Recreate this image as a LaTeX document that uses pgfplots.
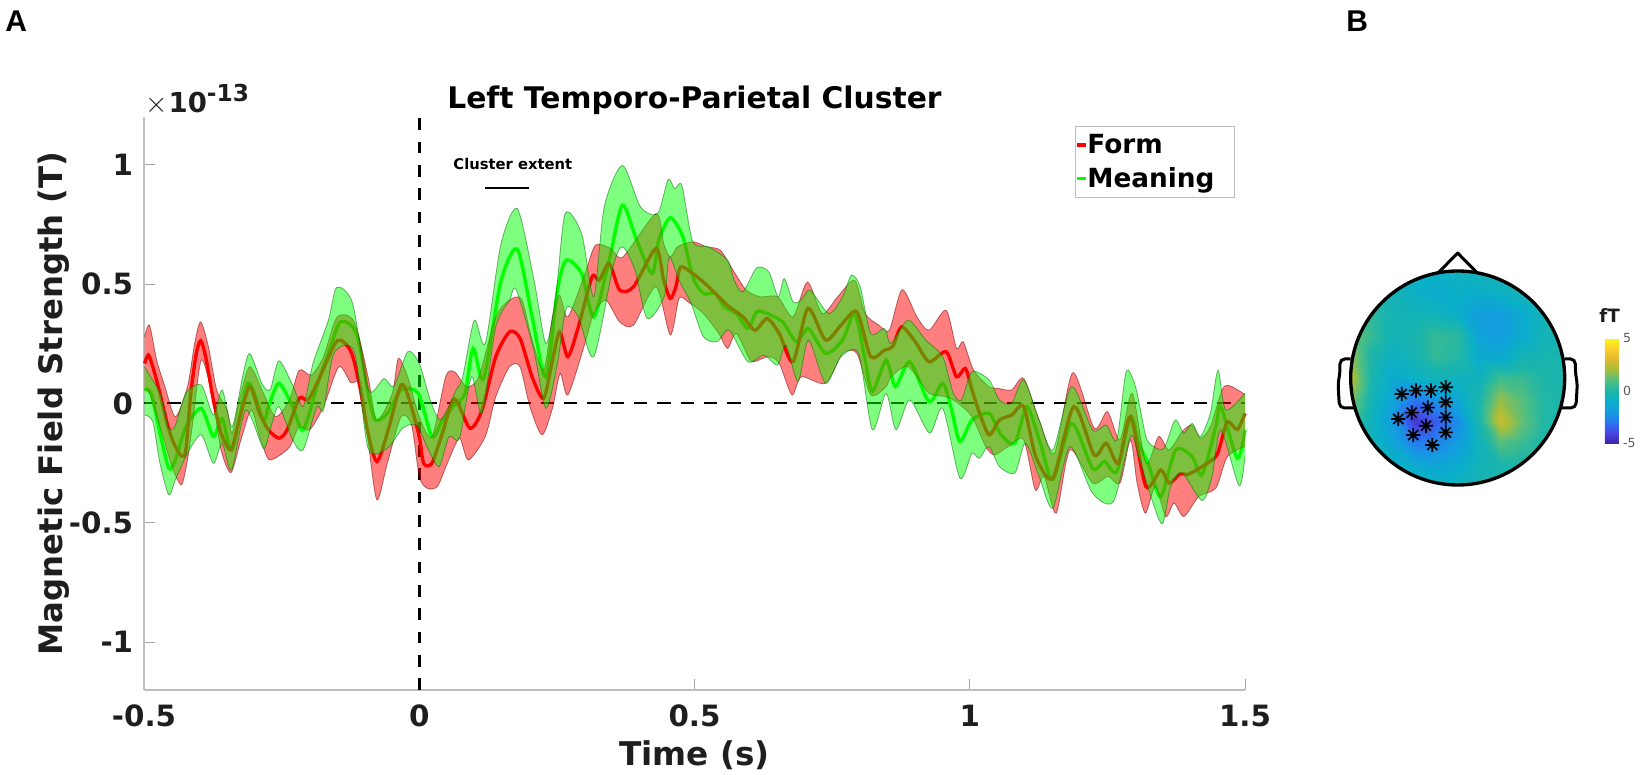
\documentclass[border=0pt]{standalone}
\usepackage{fontspec}
\setmainfont{DejaVu Sans}
\newfontfamily\panelfont{Liberation Sans}
\usepackage{pgfplots}
\usepackage{pgfplotstable}
\pgfplotsset{compat=1.18}
\usepgfplotslibrary{fillbetween}
\definecolor{txt}{RGB}{30,30,30}
\definecolor{axgray}{RGB}{190,190,190}
\pgfdeclareplotmark{star8}{%
  \pgfpathmoveto{\pgfqpoint{-\pgfplotmarksize}{0pt}}\pgfpathlineto{\pgfqpoint{\pgfplotmarksize}{0pt}}
  \pgfpathmoveto{\pgfqpoint{0pt}{-\pgfplotmarksize}}\pgfpathlineto{\pgfqpoint{0pt}{\pgfplotmarksize}}
  \pgfpathmoveto{\pgfqpoint{-.7\pgfplotmarksize}{-.7\pgfplotmarksize}}\pgfpathlineto{\pgfqpoint{.7\pgfplotmarksize}{.7\pgfplotmarksize}}
  \pgfpathmoveto{\pgfqpoint{-.7\pgfplotmarksize}{.7\pgfplotmarksize}}\pgfpathlineto{\pgfqpoint{.7\pgfplotmarksize}{-.7\pgfplotmarksize}}
  \pgfusepathqstroke
}
% mean curves and band edges (units of 1e-13 T)
\pgfplotstableread{
t v
-.499 .167
-.492 .202
-.484 .153
-.471 .042
-.458 -.084
-.446 -.167
-.432 -.220
-.424 -.195
-.415 .042
-.405 .209
-.397 .262
-.388 .195
-.374 .014
-.360 -.125
-.342 -.195
-.327 -.070
-.308 .070
-.290 -.042
-.274 -.111
-.255 -.146
-.240 -.111
-.218 .021
-.202 .014
-.183 .097
-.149 .262
-.124 .216
-.108 .070
-.093 -.125
-.077 -.244
-.058 -.125
-.033 .077
-.018 .014
0 -.139
.008 -.251
.023 -.251
.042 -.125
.064 .018
.092 -.104
.114 -.028
.139 .195
.164 .299
.183 .272
.205 .111
.226 .021
.242 .181
.255 .299
.270 .195
.289 .320
.314 .529
.327 .515
.345 .585
.364 .474
.389 .487
.430 .648
.444 .515
.456 .439
.466 .487
.475 .571
.497 .543
.516 .508
.541 .453
.563 .404
.588 .362
.610 .306
.632 .355
.654 .292
.679 .174
.706 .397
.738 .265
.766 .327
.795 .383
.820 .195
.845 .223
.860 .237
.876 .320
.901 .258
.926 .174
.957 .216
.976 .111
.992 .146
1.004 .056
1.017 -.035
1.035 -.132
1.054 -.070
1.076 -.049
1.098 -.014
1.120 -.223
1.151 -.313
1.189 -.014
1.226 -.216
1.248 -.167
1.270 -.251
1.292 -.056
1.320 -.348
1.347 -.279
1.362 -.334
1.383 -.293
1.395 -.299
1.422 -.265
1.447 -.223
1.456 -.167
1.468 -.077
1.486 -.109
1.5 -.042
}\formmean
\pgfplotstableread{
t v
-.499 .056
-.487 .042
-.471 -.125
-.455 -.272
-.443 -.237
-.424 -.098
-.396 -.021
-.374 -.139
-.358 -.063
-.340 -.195
-.311 .084
-.283 -.070
-.274 -.014
-.255 .084
-.230 -.014
-.211 -.111
-.183 .091
-.165 .209
-.143 .341
-.114 .292
-.093 .042
-.080 -.070
-.058 -.042
-.033 .056
-.002 .042
.023 -.139
.042 -.070
.064 -.007
.083 .042
.098 .230
.117 .104
.148 .508
.178 .645
.205 .362
.230 .111
.251 .474
.267 .599
.295 .543
.317 .362
.345 .599
.369 .829
.395 .683
.423 .543
.435 .683
.456 .777
.479 .696
.497 .529
.516 .460
.538 .460
.554 .404
.576 .376
.597 .313
.613 .383
.632 .376
.660 .341
.685 .258
.707 .313
.738 .209
.769 .265
.791 .376
.810 .181
.823 .049
.848 .181
.865 .070
.891 .174
.926 .007
.951 .084
.967 -.028
.982 -.160
1.004 -.070
1.035 -.042
1.057 -.132
1.082 -.167
1.104 -.014
1.129 -.174
1.151 -.320
1.185 -.084
1.223 -.272
1.245 -.244
1.267 -.286
1.292 -.056
1.307 -.167
1.325 -.258
1.347 -.390
1.374 -.195
1.404 -.223
1.422 -.299
1.447 -.098
1.456 -.014
1.486 -.230
1.5 -.111
}\meaningmean
\pgfplotstableread{
t v
-.499 .279
-.490 .327
-.477 .181
-.462 .070
-.443 -.056
-.421 .070
-.408 .251
-.397 .341
-.383 .237
-.368 .056
-.349 -.028
-.340 -.125
-.327 .014
-.308 .153
-.283 .042
-.261 -.056
-.236 .014
-.218 .139
-.196 .118
-.174 .195
-.149 .362
-.118 .341
-.093 .111
-.077 -.070
-.049 .042
-.038 .188
-.021 .111
0 -.056
.023 -.139
.048 .111
.064 .132
.086 .070
.108 .111
.139 .362
.164 .432
.186 .436
.205 .265
.226 .139
.242 .362
.255 .453
.270 .362
.301 .543
.320 .662
.348 .648
.370 .613
.430 .794
.444 .669
.456 .613
.469 .655
.497 .676
.522 .655
.547 .641
.572 .550
.594 .474
.619 .446
.651 .446
.679 .362
.705 .508
.732 .376
.760 .446
.791 .515
.810 .376
.835 .327
.854 .306
.877 .476
.904 .362
.926 .306
.957 .390
.976 .230
.988 .258
1.007 .139
1.035 .070
1.051 .063
1.076 .056
1.098 .104
1.126 -.070
1.154 -.209
1.187 .128
1.226 -.104
1.250 -.035
1.273 -.153
1.295 .042
1.320 -.251
1.343 -.139
1.362 -.195
1.386 -.118
1.404 -.091
1.419 -.146
1.437 -.098
1.462 .070
1.492 .049
1.5 .035
}\formup
\pgfplotstableread{
t v
-.499 .056
-.490 .042
-.471 -.098
-.449 -.265
-.432 -.341
-.421 -.237
-.412 -.091
-.396 .181
-.377 .042
-.360 -.195
-.342 -.290
-.324 -.153
-.305 -.028
-.290 -.139
-.274 -.234
-.255 -.220
-.235 -.181
-.218 -.098
-.199 -.111
-.174 -.014
-.146 .153
-.124 .086
-.105 .084
-.093 -.153
-.077 -.404
-.058 -.251
-.033 -.056
-.014 -.091
0 -.306
.014 -.355
.033 -.348
.051 -.251
.073 -.146
.089 -.237
.120 -.139
.139 .028
.164 .153
.183 .153
.201 -.014
.223 -.132
.242 -.021
.256 .125
.270 .035
.301 .251
.317 .376
.339 .432
.364 .341
.389 .327
.430 .488
.456 .286
.472 .439
.488 .425
.516 .376
.544 .292
.560 .230
.576 .292
.601 .181
.613 .178
.635 .195
.654 .167
.677 .035
.694 .111
.738 .084
.769 .209
.795 .209
.820 .035
.848 .070
.857 .111
.888 .153
.926 .042
.957 .028
.979 0
1.004 -.056
1.029 -.181
1.045 -.216
1.070 -.181
1.098 -.153
1.119 -.362
1.135 -.306
1.157 -.460
1.182 -.195
1.223 -.334
1.251 -.306
1.273 -.334
1.292 -.153
1.304 -.334
1.319 -.460
1.337 -.348
1.356 -.474
1.371 -.418
1.389 -.474
1.416 -.390
1.447 -.355
1.468 -.223
1.5 -.181
}\formlo
\pgfplotstableread{
t v
-.499 .153
-.490 .118
-.471 .042
-.455 -.104
-.443 -.091
-.424 .042
-.396 .077
-.374 -.049
-.358 .056
-.340 -.098
-.321 .111
-.308 .209
-.286 .084
-.271 .056
-.255 .178
-.230 .077
-.211 -.014
-.193 .167
-.165 .348
-.150 .485
-.121 .418
-.093 .056
-.064 .104
-.046 .070
-.021 .216
0 .167
.020 .014
.039 -.070
.067 .056
.079 .111
.100 .348
.120 .251
.148 .662
.178 .815
.208 .522
.230 .251
.248 .446
.265 .794
.295 .710
.317 .446
.336 .822
.369 .996
.402 .822
.433 .794
.452 .937
.464 .898
.477 .912
.497 .676
.526 .655
.560 .599
.572 .515
.588 .467
.613 .567
.635 .550
.652 .446
.663 .522
.679 .425
.694 .432
.710 .474
.744 .376
.769 .446
.785 .536
.801 .488
.820 .292
.845 .313
.857 .251
.888 .348
.920 .265
.951 .195
.970 .042
.985 .014
1.004 .132
1.035 .098
1.054 .014
1.076 0
1.098 .098
1.126 -.070
1.151 -.195
1.185 .070
1.223 -.111
1.248 -.091
1.267 -.153
1.284 .132
1.301 .070
1.320 -.139
1.334 -.181
1.353 -.188
1.373 -.070
1.389 -.125
1.404 -.084
1.419 -.139
1.437 -.042
1.451 .139
1.465 -.028
1.5 .042
}\meaningup
\pgfplotstableread{
t v
-.499 -.049
-.484 -.077
-.471 -.251
-.455 -.383
-.443 -.320
-.421 -.209
-.396 -.132
-.374 -.251
-.358 -.167
-.341 -.279
-.315 -.028
-.283 -.188
-.271 -.111
-.255 -.014
-.230 -.153
-.211 -.195
-.186 -.014
-.174 -.028
-.155 .209
-.118 .216
-.093 -.188
-.058 -.188
-.030 -.104
-.005 -.091
.014 -.181
.036 -.265
.054 -.139
.073 -.146
.095 .111
.114 -.042
.139 .320
.164 .432
.176 .476
.208 .223
.230 -.021
.251 .167
.267 .397
.289 .362
.317 .195
.352 .571
.369 .655
.392 .557
.414 .355
.445 .446
.454 .613
.472 .515
.494 .418
.516 .279
.541 .258
.563 .306
.597 .174
.626 .202
.651 .160
.666 .244
.688 .091
.707 .265
.738 .084
.766 .195
.798 .209
.823 -.111
.848 .042
.866 -.111
.891 .014
.927 -.125
.951 -.021
.982 -.313
1.004 -.209
1.017 -.230
1.035 -.181
1.054 -.265
1.082 -.292
1.101 -.167
1.126 -.306
1.151 -.439
1.182 -.181
1.223 -.376
1.261 -.411
1.292 -.139
1.307 -.223
1.331 -.404
1.350 -.504
1.365 -.348
1.386 -.293
1.422 -.407
1.440 -.306
1.456 -.111
1.489 -.345
1.5 -.223
}\meaninglo
% scalp field, fT, on a square grid
\pgfplotstableread{
x y z
-1 -1 -.3
-.8 -1 -.3
-.6 -1 -.3
-.4 -1 -.5
-.2 -1 -.7
0 -1 -.6
.2 -1 -.3
.4 -1 -.2
.6 -1 -.2
.8 -1 -.2
1 -1 -.2
-1 -.8 -.1
-.8 -.8 -.4
-.6 -.8 -.8
-.4 -.8 -1.3
-.2 -.8 -1.6
0 -.8 -1.2
.2 -.8 -.5
.4 -.8 -.1
.6 -.8 -.1
.8 -.8 -.2
1 -.8 -.2
-1 -.6 -.1
-.8 -.6 -.6
-.6 -.6 -1.6
-.4 -.6 -2.9
-.2 -.6 -2.7
0 -.6 -1.9
.2 -.6 -.6
.4 -.6 1
.6 -.6 .5
.8 -.6 -.1
1 -.6 -.2
-1 -.4 .5
-.8 -.4 -.7
-.6 -.4 -2
-.4 -.4 -4.5
-.2 -.4 -3.6
0 -.4 -2.4
.2 -.4 -.1
.4 -.4 2.6
.6 -.4 1.2
.8 -.4 .1
1 -.4 -.2
-1 -.2 1.5
-.8 -.2 -.5
-.6 -.2 -1.5
-.4 -.2 -3
-.2 -.2 -2.2
0 -.2 -1.4
.2 -.2 -.2
.4 -.2 1.8
.6 -.2 1
.8 -.2 .1
1 -.2 -.2
-1 0 2.3
-.8 0 -.2
-.6 0 -1.3
-.4 0 -.9
-.2 0 -.5
0 0 -.7
.2 0 -.7
.4 0 .6
.6 0 .5
.8 0 0
1 0 -.2
-1 .2 1.8
-.8 .2 -.1
-.6 .2 -.8
-.4 .2 -.3
-.2 .2 .4
0 .2 .1
.2 .2 -1.3
.4 .2 -1.3
.6 .2 -.4
.8 .2 -.2
1 .2 -.2
-1 .4 1.5
-.8 .4 .4
-.6 .4 -.5
-.4 .4 -.2
-.2 .4 .4
0 .4 .2
.2 .4 -1.6
.4 .4 -2
.6 .4 -1.2
.8 .4 -.5
1 .4 -.3
-1 .6 1
-.8 .6 .3
-.6 .6 -.4
-.4 .6 -.6
-.2 .6 -.6
0 .6 -1
.2 .6 -1.8
.4 .6 -1.9
.6 .6 -1.3
.8 .6 -.5
1 .6 -.4
-1 .8 .5
-.8 .8 -.1
-.6 .8 -.5
-.4 .8 -.9
-.2 .8 -1.2
0 .8 -.9
.2 .8 -1
.4 .8 -.8
.6 .8 -.5
.8 .8 -.4
1 .8 -.4
-1 1 -.6
-.8 1 -.6
-.6 1 -.6
-.4 1 -.8
-.2 1 -.9
0 1 -.7
.2 1 -.5
.4 1 -.5
.6 1 -.5
.8 1 -.5
1 1 -.5
}\scalp
\begin{document}
\begin{tikzpicture}
\node[anchor=base west,inner sep=0pt,font=\panelfont\bfseries\fontsize{18}{18}\selectfont] at (3pt,445.8pt) {A};
\node[anchor=base west,inner sep=0pt,font=\panelfont\bfseries\fontsize{18}{18}\selectfont] at (807.6pt,445.8pt) {B};

\begin{axis}[
  at={(86.4pt,51pt)},anchor=south west,scale only axis,
  width=660.6pt,height=344pt,
  xmin=-0.5,xmax=1.5,ymin=-1.2,ymax=1.2,
  axis x line*=bottom,axis y line*=left,
  axis line style={draw=axgray,line width=1pt,-},
  tick style={draw=gray!70,line width=.4pt},
  tick align=inside,major tick length=6.6pt,
  xtick={-0.5,0,0.5,1,1.5},xticklabels={-0.5,0,0.5,1,1.5},
  ytick={-1,-0.5,0,0.5,1},yticklabels={-1,-0.5,0,0.5,1},
  ticklabel style={font=\bfseries\fontsize{17.6}{17.6}\selectfont,text=txt},
  xticklabel style={yshift=-5.5pt},
  yticklabel style={xshift=-3pt},
  xlabel={\bfseries\fontsize{19.6}{19.6}\selectfont\textcolor{txt}{Time (s)}},
  ylabel={\bfseries\fontsize{19.4}{19.4}\selectfont\textcolor{txt}{Magnetic Field Strength (T)}},
  xlabel style={yshift=-1pt},
  ylabel style={yshift=-7pt},
  clip=false,
  every axis plot/.append style={forget plot},
  legend style={at={(0.8456,0.9838)},anchor=north west,draw=axgray,line width=.8pt,
    font=\bfseries\fontsize{15.8}{15.8}\selectfont,inner sep=0pt,inner ysep=2.5pt,row sep=3pt,
    legend cell align=left},
  legend image code/.code={\draw[#1,line width=2pt] (-5pt,0pt)--(0pt,0pt);},
]
\addlegendimage{red}\addlegendentry{\hspace*{-2pt}Form\hspace*{10pt}}
\addlegendimage{green}\addlegendentry{\hspace*{-2pt}Meaning\hspace*{10pt}}
\addplot[black,line width=1.2pt,dash pattern=on 8pt off 6pt] coordinates {(-0.5,0) (1.5,0)};
\addplot[black,line width=1.8pt,dash pattern=on 7pt off 7pt] coordinates {(0,-1.2) (0,1.2)};
\addplot[draw=none,smooth,tension=.45,name path=fu] table {\formup};
\addplot[draw=none,smooth,tension=.45,name path=fl] table {\formlo};
\addplot[draw=none,smooth,tension=.45,name path=mu] table {\meaningup};
\addplot[draw=none,smooth,tension=.45,name path=ml] table {\meaninglo};
\addplot[green,line width=2pt,smooth,tension=.45] table {\meaningmean};
\addplot[red,opacity=.5,draw=none] fill between[of=fu and fl,on layer=main];
\addplot[black!60!red,opacity=.5,line width=.5pt,smooth,tension=.45] table {\formup};
\addplot[black!60!red,opacity=.5,line width=.5pt,smooth,tension=.45] table {\formlo};
\addplot[red,line width=2pt,smooth,tension=.45] table {\formmean};
\addplot[green,opacity=.5,draw=none] fill between[of=mu and ml,on layer=main];
\addplot[black!60!green,opacity=.5,line width=.5pt,smooth,tension=.45] table {\meaningup};
\addplot[black!60!green,opacity=.5,line width=.5pt,smooth,tension=.45] table {\meaninglo};
\addplot[black,line width=1.2pt] coordinates {(0.12,0.9) (0.2,0.9)};
\node[font=\bfseries\fontsize{8.85}{9}\selectfont] at (axis cs:0.17,1.0) {Cluster extent};
\node[anchor=base,font=\bfseries\fontsize{17.85}{17.85}\selectfont,inner sep=0pt] at (axis cs:0.5,1.234) {Left Temporo-Parietal Cluster};
\node[anchor=base west,inner sep=0pt,text=txt] at (axis cs:-0.498,1.216)
  {\fontsize{19}{19}\selectfont$\times$\hspace{.5pt}\bfseries\fontsize{16.5}{16.5}\selectfont 10\raisebox{7pt}{\fontsize{14}{14}\selectfont -13}};
\end{axis}

\pgfplotsset{colormap={parula}{rgb255=(62,38,168) rgb255=(70,70,230) rgb255=(40,120,240) rgb255=(20,155,225) rgb255=(10,175,200) rgb255=(30,182,168) rgb255=(85,190,125) rgb255=(165,190,60) rgb255=(225,185,45) rgb255=(252,206,46) rgb255=(249,251,21)}}
\begin{axis}[
  at={(810.4pt,174pt)},anchor=south west,scale only axis,
  width=128.4pt,height=128.4pt,
  xmin=-1,xmax=1,ymin=-1,ymax=1,hide axis,clip=false,
  colormap name=parula,point meta min=-5,point meta max=5,
  colorbar,
  colorbar style={at={(1.188,0.196)},anchor=south west,width=8.4pt,height=63pt,
    ytick={-5,0,5},yticklabels={-5,0,5},major tick length=0pt,
    axis line style={draw=none},
    yticklabel style={font=\fontsize{7.5}{8}\selectfont,text=black!65,xshift=-1pt}},
]
\addplot[surf,shader=interp,mesh/cols=11,point meta=\thisrow{z}] table[x=x,y=y] {\scalp};
\path[fill=white,even odd rule] (axis cs:-1.03,-1.03) rectangle (axis cs:1.03,1.03) (axis cs:0,0) circle[radius=64.2pt];
\draw[black,line width=2pt] (axis cs:0,0) circle[radius=64.2pt];
\draw[black,line width=1.8pt,line join=round] (axis cs:-.18,.985)--(axis cs:0,1.168)--(axis cs:.18,.985);
\draw[black,line width=1.8pt,rounded corners=3pt] (axis cs:-1,.178)--(axis cs:-1.1,.178)--(axis cs:-1.1,.05)--(axis cs:-1.118,-.05)--(axis cs:-1.105,-.28)--(axis cs:-.96,-.28);
\draw[black,line width=1.8pt,rounded corners=3pt] (axis cs:1,.178)--(axis cs:1.1,.178)--(axis cs:1.1,.05)--(axis cs:1.118,-.05)--(axis cs:1.105,-.28)--(axis cs:.96,-.28);
\addplot[only marks,mark=star8,mark size=4.3pt,mark options={black,line width=1pt}] coordinates {
(-.523,-.150) (-.390,-.118) (-.250,-.118) (-.112,-.087) (-.112,-.227) (-.280,-.277) (-.430,-.324)
(-.555,-.383) (-.112,-.368) (-.296,-.446) (-.112,-.508) (-.415,-.533) (-.237,-.626)};
\node[font=\bfseries\fontsize{11}{11}\selectfont,text=txt] at (axis cs:1.42,.58) {fT};
\end{axis}
\pgfresetboundingbox
\path[use as bounding box] (0pt,0pt) rectangle (990pt,465pt);
\end{tikzpicture}
\end{document}
